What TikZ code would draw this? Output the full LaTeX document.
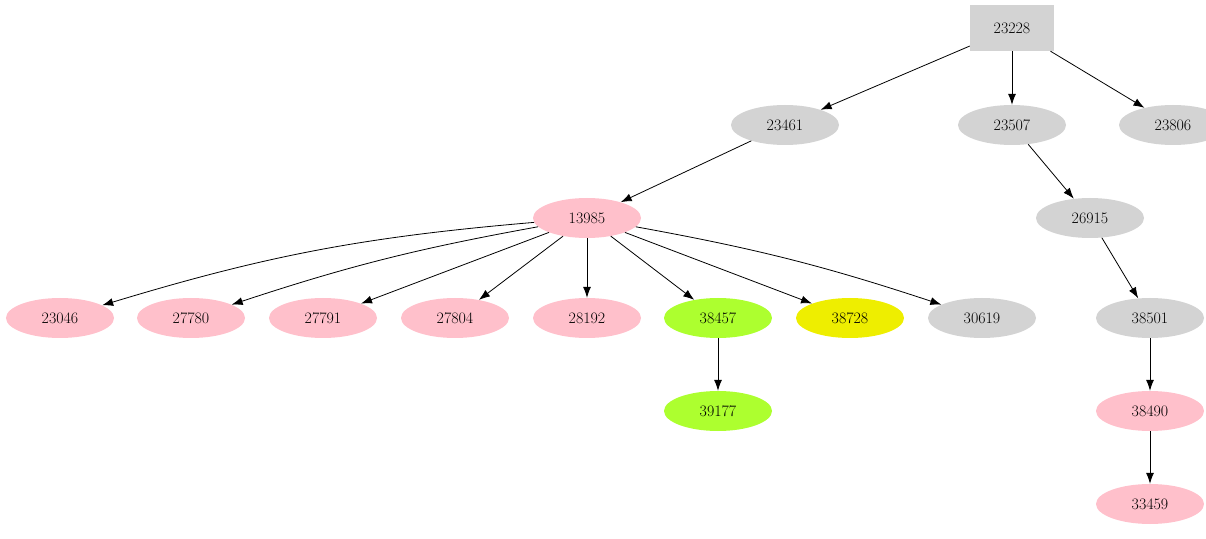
\documentclass[tikz,border=0pt]{standalone}
\usetikzlibrary{shapes.geometric,arrows.meta}
\definecolor{pinkn}{RGB}{255,192,203}
\definecolor{grayn}{RGB}{211,211,211}
\definecolor{greenn}{RGB}{173,255,47}
\definecolor{yellown}{RGB}{238,238,0}
\tikzset{
    vertex/.style={%
        ellipse, fill=#1,
        minimum width=108bp, minimum height=40bp,
        inner sep=0pt, font=\fontsize{16}{18}\selectfont
        },
    vertex/.default=pinkn,
    rootbox/.style={%
        rectangle, fill=grayn,
        minimum width=84bp, minimum height=46bp,
        font=\fontsize{16}{18}\selectfont
        },
    link/.style={-{Latex[length=11bp,width=8bp]}, line width=0.8bp}
}
\begin{document}
\begin{tikzpicture}[x=1bp, y=-1bp]

\useasboundingbox (0,0) rectangle (1206,539);

\node[rootbox] (n23228) at (1012,28) {23228};

\node[vertex=grayn] (n23461) at (785,125) {23461};
\node[vertex=grayn] (n23507) at (1012,125) {23507};
\node[vertex=grayn] (n23806) at (1173,125) {23806};

\node[vertex] (n13985) at (587,218) {13985};
\node[vertex=grayn] (n26915) at (1090,218) {26915};

\node[vertex] (n23046) at (60,318) {23046};
\node[vertex] (n27780) at (191,318) {27780};
\node[vertex] (n27791) at (323,318) {27791};
\node[vertex] (n27804) at (455,318) {27804};
\node[vertex] (n28192) at (587,318) {28192};
\node[vertex=greenn] (n38457) at (718,318) {38457};
\node[vertex=yellown] (n38728) at (850,318) {38728};
\node[vertex=grayn] (n30619) at (982,318) {30619};
\node[vertex=grayn] (n38501) at (1150,318) {38501};

\node[vertex=greenn] (n39177) at (718,411) {39177};
\node[vertex] (n38490) at (1150,411) {38490};
\node[vertex] (n33459) at (1150,504) {33459};

\draw[link] (n23228) -- (n23461);
\draw[link] (n23228) -- (n23507);
\draw[link] (n23228) -- (n23806);
\draw[link] (n23461) -- (n13985);
\draw[link] (n23507) -- (n26915);
\draw[link] (n26915) -- (n38501);
\draw[link] (n38501) -- (n38490);
\draw[link] (n38490) -- (n33459);
\draw[link] (n38457) -- (n39177);

\draw[link] (n13985) to[bend right=6] (n23046);
\draw[link] (n13985) to[bend right=4] (n27780);
\draw[link] (n13985) -- (n27791);
\draw[link] (n13985) -- (n27804);
\draw[link] (n13985) -- (n28192);
\draw[link] (n13985) -- (n38457);
\draw[link] (n13985) -- (n38728);
\draw[link] (n13985) to[bend left=4] (n30619);

\end{tikzpicture}
\end{document}
